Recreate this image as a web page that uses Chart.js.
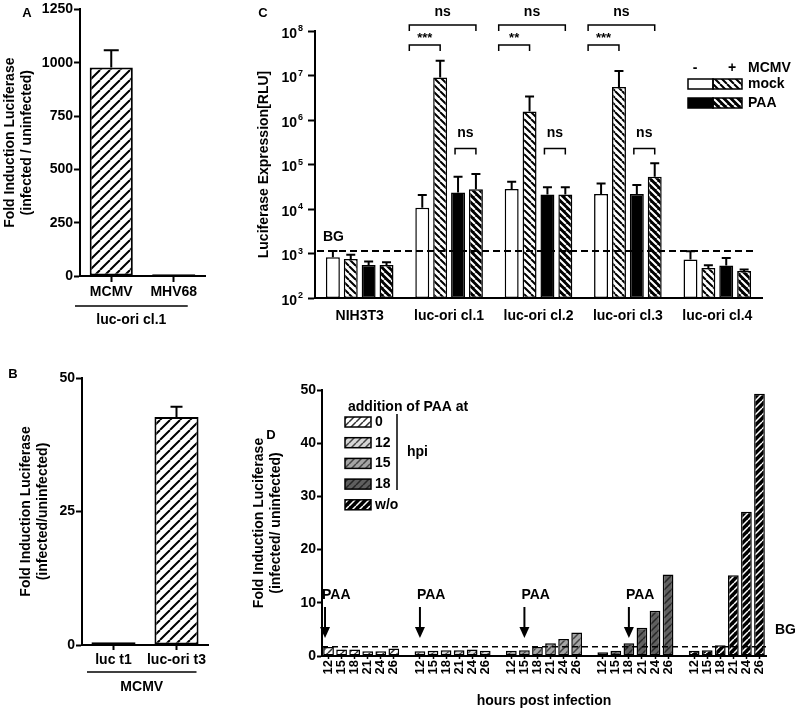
<!DOCTYPE html>
<html>
<head>
<meta charset="utf-8">
<script src="https://cdn.jsdelivr.net/npm/chart.js@4"></script>
<style>
  body { margin: 0; background: #fff; width: 798px; height: 713px; position: relative; overflow: hidden; }
  canvas { position: absolute; }
</style>
</head>
<body>
<canvas id="panelA" width="230" height="330" style="left:0;top:0;width:230px;height:330px"></canvas>
<canvas id="panelB" width="230" height="373" style="left:0;top:340px;width:230px;height:373px"></canvas>
<canvas id="panelC" width="568" height="340" style="left:230px;top:0;width:568px;height:340px"></canvas>
<canvas id="panelD" width="568" height="333" style="left:230px;top:380px;width:568px;height:333px"></canvas>
<script>
// --- panel A: fold induction, luc-ori cl.1 ---
const aLabels = ['MCMV', 'MHV68'];
const aValues = [978, 8];
const aErrTop = [1058, null];

// --- panel B: fold induction, MCMV ---
const bLabels = ['luc t1', 'luc-ori t3'];
const bValues = [0.5, 42.7];
const bErrTop = [null, 44.6];

// --- panel C: luciferase RLU (log) ---
const cLabels = ['NIH3T3', 'luc-ori cl.1', 'luc-ori cl.2', 'luc-ori cl.3', 'luc-ori cl.4'];
const mockUninf = [820, 10700, 28000, 21700, 733];
const mockUninfErr = [1140, 20600, 41000, 37600, 1130];
const mockMCMV = [750, 9.0e6, 1.55e6, 5.5e6, 474];
const mockMCMVErr = [940, 2.14e7, 3.37e6, 1.26e7, 545];
const paaUninf = [550, 23600, 21300, 21700, 537];
const paaUninfErr = [660, 53000, 30700, 34600, 795];
const paaMCMV = [550, 27700, 21300, 53000, 406];
const paaMCMVErr = [640, 61000, 30700, 106000, 437];
const cDecades = [1e2, 1e3, 1e4, 1e5, 1e6, 1e7, 1e8];
const cBackground = 1140;
const cAllSig = ['', 'ns', 'ns', 'ns', ''];
const cMockSig = ['', '***', '**', '***', ''];
const cPaaSig = ['', 'ns', 'ns', 'ns', ''];
const cPaaSigLevel = 2.3e5;

// --- panel D: time course, PAA added at different hpi ---
const dHours = ['12', '15', '18', '21', '24', '26'];
const dPaaAt = ['0', '12', '15', '18', 'w/o'];
const dPaa0 = [1.7, 1.2, 1.2, 0.9, 0.9, 1.4];
const dPaa12 = [0.9, 1.0, 1.1, 1.1, 1.2, 1.0];
const dPaa15 = [1.0, 1.1, 1.7, 2.4, 3.2, 4.4];
const dPaa18 = [0.7, 1.0, 2.4, 5.3, 8.5, 15.3];
const dNoPaa = [1.0, 1.1, 2.0, 15.2, 27.1, 49.3];
const dBackground = 1.75;

const FONT = '"Liberation Sans", Arial, Helvetica, sans-serif';
Chart.defaults.font.family = FONT;
Chart.defaults.font.size = 14;
Chart.defaults.font.weight = 'bold';
Chart.defaults.color = '#000';
Chart.defaults.animation = false;
Chart.defaults.responsive = false;
Chart.defaults.devicePixelRatio = 1;
Chart.defaults.plugins.legend.display = false;
Chart.defaults.plugins.tooltip.enabled = false;

// diagonal hatch fill
function hatch(canvasId, bg, fg, dir, gap, lw) {
    const tile = document.createElement('canvas');
    tile.width = tile.height = gap;
    const t = tile.getContext('2d');
    t.fillStyle = bg;
    t.fillRect(0, 0, gap, gap);
    t.strokeStyle = fg;
    t.lineWidth = lw;
    t.beginPath();
    for (let k = -1; k <= 1; k++) {
        if (dir === '/') { t.moveTo(k * gap, gap); t.lineTo(k * gap + gap, 0); }
        else { t.moveTo(k * gap, 0); t.lineTo(k * gap + gap, gap); }
    }
    t.stroke();
    return document.getElementById(canvasId).getContext('2d').createPattern(tile, 'repeat');
}

function drawErrors(chart, cap) {
    const ctx = chart.ctx;
    const y = chart.scales.y;
    chart.data.datasets.forEach((ds, i) => {
        if (!ds.errTop) return;
        chart.getDatasetMeta(i).data.forEach((bar, j) => {
            const top = ds.errTop[j];
            if (top == null) return;
            const py = y.getPixelForValue(top);
            ctx.save();
            ctx.strokeStyle = '#000';
            ctx.lineWidth = 2;
            ctx.beginPath();
            ctx.moveTo(bar.x, bar.y);
            ctx.lineTo(bar.x, py);
            ctx.moveTo(bar.x - cap / 2, py);
            ctx.lineTo(bar.x + cap / 2, py);
            ctx.stroke();
            ctx.restore();
        });
    });
}

function text(ctx, str, x, y, size, align) {
    ctx.save();
    ctx.font = 'bold ' + size + 'px ' + FONT;
    ctx.fillStyle = '#000';
    ctx.textAlign = align || 'center';
    ctx.textBaseline = 'middle';
    ctx.fillText(str, x, y);
    ctx.restore();
}

function line(ctx, pts, lw, dash) {
    ctx.save();
    ctx.strokeStyle = '#000';
    ctx.lineWidth = lw;
    if (dash) ctx.setLineDash(dash);
    ctx.beginPath();
    pts.forEach((p, i) => i ? ctx.lineTo(p[0], p[1]) : ctx.moveTo(p[0], p[1]));
    ctx.stroke();
    ctx.restore();
}

const axisGrid = { drawOnChartArea: false, tickLength: 6, tickWidth: 2, tickColor: '#000' };
const axisBorder = { color: '#000', width: 2 };
const plainTick = v => String(v);

// ---------- A ----------
new Chart(document.getElementById('panelA'), {
    type: 'bar',
    data: {
        labels: aLabels,
        datasets: [{
            data: aValues, errTop: aErrTop,
            backgroundColor: hatch('panelA', '#fff', '#000', '/', 10, 2),
            borderColor: '#000', borderWidth: 2, borderSkipped: false,
            barPercentage: 0.69, categoryPercentage: 1
        }]
    },
    options: {
        layout: { padding: { top: 9, right: 25, bottom: 0, left: 0 } },
        scales: {
            x: {
                grid: { ...axisGrid, offset: false }, border: axisBorder,
                ticks: { padding: 2, maxRotation: 0 },
                afterFit: s => { s.height = 54; }
            },
            y: {
                min: 0, max: 1250,
                ticks: { stepSize: 250, padding: 1, callback: plainTick },
                grid: axisGrid, border: axisBorder,
                title: { display: true, text: ['Fold Induction Luciferase', '(infected / uninfected)'], padding: { top: 2, bottom: 0 } },
                afterFit: s => { s.width = 80; }
            }
        }
    },
    plugins: [{
        id: 'annoA',
        afterDatasetsDraw: c => drawErrors(c, 15),
        afterDraw: c => {
            const { left, bottom } = c.chartArea;
            const right = c.scales.x.getPixelForValue(1) + 14;
            line(c.ctx, [[left - 5, bottom + 30], [right, bottom + 30]], 1.5);
            text(c.ctx, 'luc-ori cl.1', (left - 5 + right) / 2, bottom + 44, 14);
            text(c.ctx, 'A', 27, 13, 13);
        }
    }]
});

// ---------- B ----------
new Chart(document.getElementById('panelB'), {
    type: 'bar',
    data: {
        labels: bLabels,
        datasets: [{
            data: bValues, errTop: bErrTop,
            backgroundColor: hatch('panelB', '#fff', '#000', '/', 10, 2),
            borderColor: '#000', borderWidth: 2, borderSkipped: false,
            barPercentage: 0.7, categoryPercentage: 1
        }]
    },
    options: {
        layout: { padding: { top: 38, right: 22, bottom: 0, left: 0 } },
        scales: {
            x: {
                grid: { ...axisGrid, tickLength: 5, offset: false }, border: axisBorder,
                ticks: { padding: 2, maxRotation: 0, minRotation: 0 },
                afterFit: s => { s.height = 68; }
            },
            y: {
                min: 0, max: 50,
                ticks: { stepSize: 25, padding: 1, callback: plainTick },
                grid: axisGrid, border: axisBorder,
                title: { display: true, text: ['Fold Induction Luciferase', '(infected/uninfected)'], padding: { top: 18, bottom: 0 } },
                afterFit: s => { s.width = 82; }
            }
        }
    },
    plugins: [{
        id: 'annoB',
        afterDatasetsDraw: c => drawErrors(c, 12),
        afterDraw: c => {
            const { left, bottom } = c.chartArea;
            const right = c.scales.x.getPixelForValue(1) + 20;
            line(c.ctx, [[left + 5, bottom + 27], [right, bottom + 27]], 1.5);
            text(c.ctx, 'MCMV', (left + 5 + right) / 2, bottom + 42, 14);
            text(c.ctx, 'B', 13, 34, 13);
        }
    }]
});

// ---------- C ----------
const cHatchWhite = hatch('panelC', '#fff', '#000', '\\', 7, 2);
const cHatchBlack = hatch('panelC', '#000', '#fff', '\\', 7, 2);
const cBar = { borderColor: '#000', borderWidth: 1.5, borderSkipped: false, barPercentage: 0.78, categoryPercentage: 0.8 };
new Chart(document.getElementById('panelC'), {
    type: 'bar',
    data: {
        labels: cLabels,
        datasets: [
            { ...cBar, data: mockUninf, errTop: mockUninfErr, backgroundColor: '#fff' },
            { ...cBar, data: mockMCMV, errTop: mockMCMVErr, backgroundColor: cHatchWhite },
            { ...cBar, data: paaUninf, errTop: paaUninfErr, backgroundColor: '#000' },
            { ...cBar, data: paaMCMV, errTop: paaMCMVErr, backgroundColor: cHatchBlack }
        ]
    },
    options: {
        layout: { padding: { top: 31, right: 36, bottom: 0, left: 0 } },
        scales: {
            x: {
                grid: { display: true, drawOnChartArea: false, drawTicks: false }, border: axisBorder,
                ticks: { padding: 10, maxRotation: 0 },
                afterFit: s => { s.height = 42; }
            },
            y: {
                type: 'logarithmic', min: 1e2, max: 1e8,
                afterBuildTicks: s => { s.ticks = cDecades.map(v => ({ value: v })); },
                ticks: { callback: () => '' },
                grid: { ...axisGrid, tickLength: 7 }, border: axisBorder,
                title: { display: true, text: 'Luciferase Expression[RLU]', padding: { top: 26, bottom: 0 } },
                afterFit: s => { s.width = 85; }
            }
        }
    },
    plugins: [{
        id: 'annoC',
        afterDatasetsDraw: c => drawErrors(c, 9),
        afterDraw: c => {
            const ctx = c.ctx;
            const { left, right, top } = c.chartArea;
            const y = c.scales.y;
            // power-of-ten tick labels
            cDecades.forEach(v => {
                const py = y.getPixelForValue(v);
                text(ctx, '10', left - 18, py + 3, 14, 'right');
                text(ctx, String(Math.round(Math.log10(v))), left - 17, py - 2, 9, 'left');
            });
            // background line
            const yBg = y.getPixelForValue(cBackground);
            line(ctx, [[left + 2, yBg], [right - 7, yBg]], 2, [7, 4]);
            text(ctx, 'BG', left + 8, yBg - 14, 14, 'left');
            // significance brackets
            const m = [0, 1, 2, 3].map(i => c.getDatasetMeta(i).data);
            const bracket = (x1, x2, yb, label, size, dy) => {
                line(ctx, [[x1, yb + 6], [x1, yb], [x2, yb], [x2, yb + 6]], 1.5);
                text(ctx, label, (x1 + x2) / 2, yb - dy, size);
            };
            cLabels.forEach((_, g) => {
                const x0 = m[0][g].x - m[0][g].width / 2 - 6;
                if (cAllSig[g]) bracket(x0, m[3][g].x, top - 6, cAllSig[g], 14, 13);
                if (cMockSig[g]) bracket(x0, m[1][g].x, top + 14, cMockSig[g], 13, 7);
                if (cPaaSig[g]) bracket(m[2][g].x - 3, m[3][g].x, y.getPixelForValue(cPaaSigLevel), cPaaSig[g], 14, 15);
            });
            // legend
            const bx = right - 74, bm = right - 49, be = right - 20;
            text(ctx, '-', right - 67, top + 37, 14);
            text(ctx, '+', right - 30, top + 37, 14);
            text(ctx, 'MCMV', right - 14, top + 37, 14, 'left');
            [[top + 53, '#fff', cHatchWhite, 'mock'], [top + 72, '#000', cHatchBlack, 'PAA']].forEach(r => {
                ctx.save();
                ctx.fillStyle = r[1]; ctx.fillRect(bx, r[0] - 5, bm - bx, 10);
                ctx.fillStyle = r[2]; ctx.fillRect(bm, r[0] - 5, be - bm, 10);
                ctx.strokeStyle = '#000'; ctx.lineWidth = 1.5;
                ctx.strokeRect(bx, r[0] - 5, bm - bx, 10);
                ctx.strokeRect(bm, r[0] - 5, be - bm, 10);
                ctx.restore();
                text(ctx, r[3], right - 14, r[0], 14, 'left');
            });
            text(ctx, 'C', 33, 13, 13);
        }
    }]
});

// ---------- D ----------
const dSeries = [dPaa0, dPaa12, dPaa15, dPaa18, dNoPaa];
const dFills = ['#ffffff', '#d6d6d6', '#a4a4a4', '#5f5f5f', '#000000'];
const dStripes = ['#333', '#444', '#444', '#262626', '#fff'];
const dPatterns = dFills.map((f, i) => hatch('panelD', f, dStripes[i], '/', 7, 1.5));
const dSlots = [];
dSeries.forEach((s, g) => { if (g) dSlots.push(''); dSlots.push(...dHours); });
const dSlotOf = (g, k) => g * (dHours.length + 1) + k;
new Chart(document.getElementById('panelD'), {
    type: 'bar',
    data: {
        labels: dSlots,
        datasets: dSeries.map((s, g) => ({
            data: dSlots.map((_, i) => {
                const k = i - dSlotOf(g, 0);
                return k >= 0 && k < s.length ? s[k] : null;
            }),
            backgroundColor: dPatterns[g], borderColor: '#000', borderWidth: 1.5, borderSkipped: false,
            grouped: false, barPercentage: 0.82, categoryPercentage: 1
        }))
    },
    options: {
        layout: { padding: { top: 10, right: 32, bottom: 0, left: 0 } },
        scales: {
            x: {
                grid: {
                    drawOnChartArea: false, offset: false, tickLength: 3, tickWidth: 1.5,
                    tickColor: ctx => (ctx.tick && ctx.tick.label === '') ? 'rgba(0,0,0,0)' : '#000'
                },
                border: axisBorder,
                ticks: { autoSkip: false, minRotation: 90, maxRotation: 90, padding: 1, font: { size: 13 } },
                title: { display: true, text: 'hours post infection', padding: { top: 0, bottom: 3 } },
                afterFit: s => { s.height = 57; }
            },
            y: {
                min: 0, max: 50,
                ticks: { stepSize: 10, padding: 1 },
                grid: { ...axisGrid, tickLength: 5 }, border: axisBorder,
                title: { display: true, text: ['Fold Induction Luciferase', '(infected/ uninfected)'], padding: { top: 21, bottom: 0 } },
                afterFit: s => { s.width = 92; }
            }
        }
    },
    plugins: [{
        id: 'annoD',
        afterDraw: c => {
            const ctx = c.ctx;
            const { left, right, top, bottom } = c.chartArea;
            const x = c.scales.x, y = c.scales.y;
            // background line
            const yBg = y.getPixelForValue(dBackground);
            line(ctx, [[left, yBg], [right, yBg]], 1.5, [6, 4]);
            text(ctx, 'BG', right + 9, yBg - 17, 14, 'left');
            // PAA arrows
            dPaaAt.forEach((h, g) => {
                if (h === 'w/o') return;
                const k = dHours.indexOf(h);
                const ax = k >= 0 ? x.getPixelForValue(dSlotOf(g, k)) : x.getPixelForValue(dSlotOf(g, 0)) - 3.5;
                line(ctx, [[ax, bottom - 49], [ax, bottom - 27]], 2);
                ctx.save();
                ctx.fillStyle = '#000';
                ctx.beginPath();
                ctx.moveTo(ax - 5, bottom - 29); ctx.lineTo(ax + 5, bottom - 29); ctx.lineTo(ax, bottom - 18);
                ctx.closePath(); ctx.fill();
                ctx.restore();
                text(ctx, 'PAA', ax - 3, bottom - 61, 14, 'left');
            });
            // legend
            text(ctx, 'addition of PAA at', left + 26, top + 17, 14, 'left');
            dPaaAt.forEach((lab, i) => {
                const ry = top + 32 + i * 20.7;
                ctx.save();
                ctx.fillStyle = dPatterns[i];
                ctx.fillRect(left + 23, ry - 5, 26, 10);
                ctx.strokeStyle = '#000'; ctx.lineWidth = 1.5;
                ctx.strokeRect(left + 23, ry - 5, 26, 10);
                ctx.restore();
                text(ctx, lab, left + 53, ry, 14, 'left');
            });
            line(ctx, [[left + 75, top + 24], [left + 75, top + 100]], 1.5);
            text(ctx, 'hpi', left + 85, top + 62, 14, 'left');
            text(ctx, 'D', 41, 55, 13);
        }
    }]
});
</script>
</body>
</html>
